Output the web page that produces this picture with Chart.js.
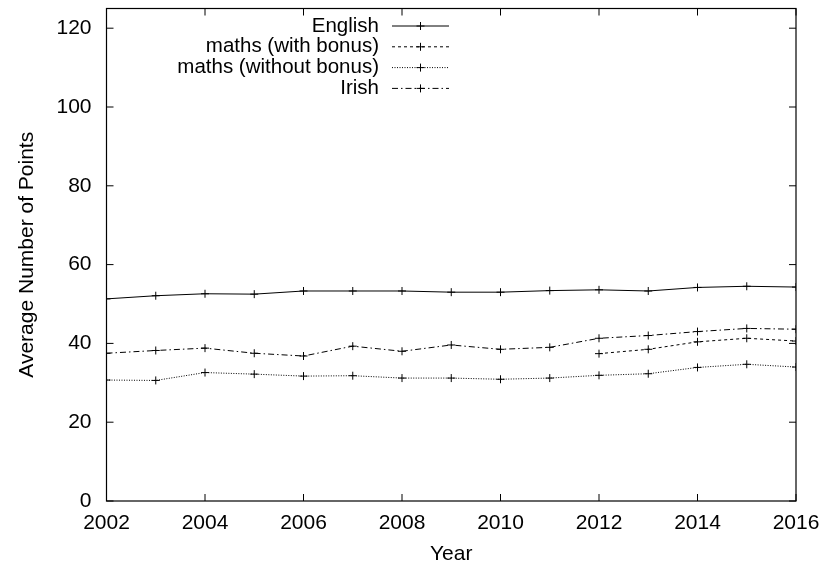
<!DOCTYPE html>
<html>
<head>
<meta charset="utf-8">
<script src="https://cdn.jsdelivr.net/npm/chart.js@4/dist/chart.umd.min.js"></script>
<style>
  html, body { margin: 0; padding: 0; background: #fff; }
  #wrap { width: 824px; height: 565px; }
</style>
</head>
<body>
<div id="wrap"><canvas id="chart" width="824" height="565"></canvas></div>
<script>
// average points per year, per subject
var years = [2002, 2003, 2004, 2005, 2006, 2007, 2008, 2009, 2010, 2011, 2012, 2013, 2014, 2015, 2016];
var english = [51.3, 52.1, 52.6, 52.5, 53.3, 53.3, 53.3, 53.0, 53.0, 53.4, 53.6, 53.3, 54.2, 54.5, 54.3];
var mathsBonus = [null, null, null, null, null, null, null, null, null, null, 37.4, 38.5, 40.4, 41.3, 40.6];
var mathsNoBonus = [30.7, 30.6, 32.6, 32.2, 31.7, 31.8, 31.2, 31.2, 30.9, 31.2, 31.9, 32.3, 33.9, 34.7, 34.0];
var irish = [37.5, 38.2, 38.8, 37.5, 36.8, 39.3, 38.0, 39.6, 38.5, 39.0, 41.3, 42.0, 43.0, 43.8, 43.6];

var seriesNames = ['English', 'maths (with bonus)', 'maths (without bonus)', 'Irish'];
var xTicks = [2002, 2004, 2006, 2008, 2010, 2012, 2014, 2016];
var yTicks = [0, 20, 40, 60, 80, 100, 120];

var FONT = "'Liberation Sans', Arial, Helvetica, sans-serif";
var FSIZE = 21;

function points(vals) {
    var out = [];
    for (var i = 0; i < years.length; i++) {
        if (vals[i] !== null) out.push({ x: years[i], y: vals[i] });
    }
    return out;
}

function series(label, vals, dash) {
    return {
        label: label,
        data: points(vals),
        borderColor: '#000',
        borderWidth: 1,
        borderDash: dash,
        pointStyle: 'cross',
        pointRadius: 4,
        pointBorderColor: '#000',
        pointBorderWidth: 1,
        fill: false,
        tension: 0
    };
}

var dashes = [[], [3, 3], [1, 1.5], [6, 3, 1.5, 3]];

// box around the plot, ticks pointing inwards, and a gnuplot-style key
var frame = {
    id: 'frame',
    afterDraw: function(chart) {
        var ctx = chart.ctx, a = chart.chartArea;
        var xs = chart.scales.x, ys = chart.scales.y;
        ctx.save();
        ctx.strokeStyle = '#000';
        ctx.lineWidth = 1.2;
        ctx.setLineDash([]);
        ctx.strokeRect(a.left, a.top, a.right - a.left, a.bottom - a.top);
        ctx.lineWidth = 1;
        ctx.beginPath();
        yTicks.forEach(function(v) {
            var y = ys.getPixelForValue(v);
            ctx.moveTo(a.left, y); ctx.lineTo(a.left + 7, y);
            ctx.moveTo(a.right, y); ctx.lineTo(a.right - 7, y);
        });
        xTicks.forEach(function(v) {
            var x = xs.getPixelForValue(v);
            ctx.moveTo(x, a.bottom); ctx.lineTo(x, a.bottom - 7);
            ctx.moveTo(x, a.top); ctx.lineTo(x, a.top + 7);
        });
        ctx.stroke();

        // key
        ctx.font = '20.5px ' + FONT;
        ctx.fillStyle = '#000';
        ctx.textAlign = 'right';
        ctx.textBaseline = 'middle';
        chart.data.datasets.forEach(function(ds, i) {
            var y = 26 + i * 20.8;
            ctx.fillText(ds.label, 379, y);
            ctx.setLineDash(ds.borderDash);
            ctx.beginPath();
            ctx.moveTo(392, y); ctx.lineTo(449, y);
            ctx.stroke();
            ctx.setLineDash([]);
            ctx.beginPath();
            ctx.moveTo(420.5 - 4, y); ctx.lineTo(420.5 + 4, y);
            ctx.moveTo(420.5, y - 4); ctx.lineTo(420.5, y + 4);
            ctx.stroke();
        });
        ctx.restore();
    }
};

var ctx = document.getElementById('chart').getContext('2d');
new Chart(ctx, {
    type: 'line',
    data: {
        datasets: [
            series(seriesNames[0], english, dashes[0]),
            series(seriesNames[1], mathsBonus, dashes[1]),
            series(seriesNames[2], mathsNoBonus, dashes[2]),
            series(seriesNames[3], irish, dashes[3])
        ]
    },
    options: {
        responsive: false,
        animation: false,
        layout: { padding: { top: 8.5, right: 28, left: 0, bottom: 0 } },
        plugins: {
            legend: { display: false },
            tooltip: { enabled: false }
        },
        scales: {
            x: {
                type: 'linear',
                min: 2002,
                max: 2016,
                afterBuildTicks: function(s) { s.ticks = xTicks.map(function(v) { return { value: v }; }); },
                afterFit: function(s) { s.height = 64; s.paddingLeft = 0; s.paddingRight = 0; },
                grid: { display: false, drawTicks: false },
                border: { display: false },
                ticks: { color: '#000', font: { size: FSIZE, family: FONT }, padding: 10, maxRotation: 0,
                         callback: function(v) { return String(v); } },
                title: { display: true, text: 'Year', color: '#000', font: { size: FSIZE, family: FONT },
                         padding: { top: 0, bottom: -2 } }
            },
            y: {
                min: 0,
                max: 125,
                afterBuildTicks: function(s) { s.ticks = yTicks.map(function(v) { return { value: v }; }); },
                afterFit: function(s) { s.width = 106.5; s.paddingTop = 0; s.paddingBottom = 0; },
                grid: { display: false, drawTicks: false },
                border: { display: false },
                ticks: { color: '#000', font: { size: FSIZE, family: FONT }, padding: 15 },
                title: { display: true, text: 'Average Number of Points', color: '#000',
                         font: { size: FSIZE, family: FONT }, padding: { top: 15, bottom: 0 } }
            }
        }
    },
    plugins: [frame]
});
</script>
</body>
</html>
